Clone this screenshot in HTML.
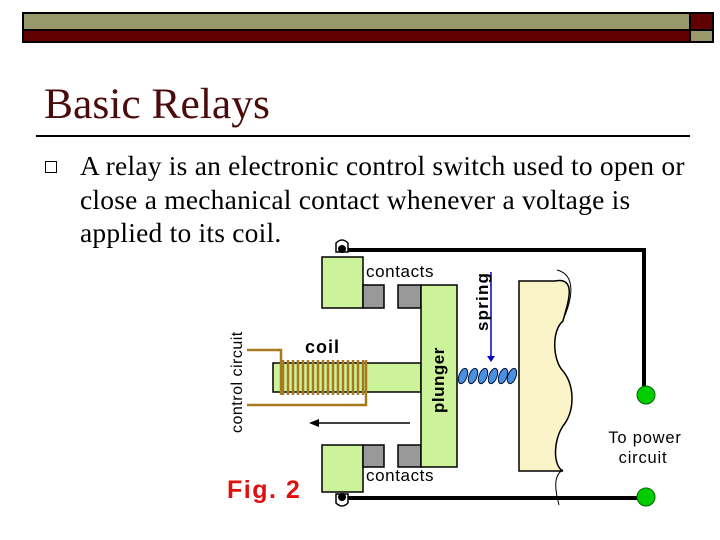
<!DOCTYPE html><html><head><style>
body{margin:0;width:720px;height:540px;background:#fff;position:relative;overflow:hidden;font-family:"Liberation Serif",serif}
.a{position:absolute}
</style></head><body>
<div class="a" style="left:22px;top:12px;width:666px;height:16px;background:#99986a;border:2px solid #000"></div>
<div class="a" style="left:22px;top:29px;width:666px;height:10px;background:#600000;border:2px solid #000"></div>
<div class="a" style="left:689px;top:12px;width:21px;height:16px;background:#600000;border:2px solid #000"></div>
<div class="a" style="left:689px;top:29px;width:21px;height:10px;background:#99986a;border:2px solid #000"></div>
<div class="a" style="left:44px;top:79px;font-size:43.5px;color:#4a0b0b">Basic Relays</div>
<div class="a" style="left:36px;top:135px;width:654px;height:2px;background:#000"></div>
<div class="a" style="left:45px;top:161px;width:10px;height:10px;border:1.5px solid #000"></div>
<div class="a" style="left:80px;top:149px;font-size:27.5px;line-height:33.5px;color:#000;width:640px;white-space:nowrap;letter-spacing:0.22px">A relay is an electronic control switch used to open or<br>close a mechanical contact whenever a voltage is<br>applied to its coil.</div>
<svg class="a" style="left:0;top:0" width="720" height="540">
<g font-family="Liberation Sans,sans-serif">
<path d="M342 250H644V395M342 498H640" stroke="#000" stroke-width="4" fill="none"/>
<circle cx="646" cy="395" r="9" fill="#0c0" stroke="#060"/>
<circle cx="646" cy="497" r="9" fill="#0c0" stroke="#060"/>
<path d="M336 252V243q6-6 12 0V252z" fill="#fff" stroke="#000" stroke-width="1.5"/>
<circle cx="342" cy="249" r="4" fill="#000"/>
<path d="M336 494V503q6 6 12 0V494z" fill="#fff" stroke="#000" stroke-width="1.5"/>
<circle cx="342" cy="497" r="4" fill="#000"/>
<g stroke="#000" stroke-width="1.5">
<rect x="322" y="257" width="41" height="51" fill="#ccf29a"/>
<rect x="322" y="445" width="41" height="47" fill="#ccf29a"/>
<rect x="363" y="285" width="21" height="23" fill="#999"/>
<rect x="398" y="285" width="23" height="23" fill="#999"/>
<rect x="363" y="445" width="21" height="22" fill="#999"/>
<rect x="398" y="445" width="23" height="22" fill="#999"/>
<rect x="273" y="363" width="148" height="29" fill="#ccf29a"/>
<rect x="421" y="285" width="36" height="182" fill="#ccf29a"/>
<path d="M519 281H555c25-5 10 30 8 40c-12 10-10 40 0 50c12 15 12 40 0 55c-10 15-10 40 0 45H519z" fill="#fbf4c8"/>
</g>
<path d="M557 270c20 5 15 30 6 50M563 470c-10 5-8 20-4 35" stroke="#000" fill="none"/>
<g stroke="#a87a20" stroke-width="2.5">
<path d="M247 350H281V395M247 405H366V360" fill="none"/>
<path d="M283 360V395M288 360V395M293 360V395M298 360V395M303 360V395M308 360V395M313 360V395M318 360V395M323 360V395M328 360V395M333 360V395M338 360V395M343 360V395M348 360V395M353 360V395M358 360V395M363 360V395"/>
</g>
<path d="M318 423H410" stroke="#000" stroke-width="1.5"/><path d="M309 423l10-4v8z" fill="#000"/>
<path d="M491 272V358" stroke="#00c" stroke-width="1.5"/><path d="M487 356h8l-4 6z" fill="#00c"/>
<g fill="#4a90e0" stroke="#013" stroke-width="1">
<ellipse cx="463" cy="376" rx="4" ry="8" transform="rotate(20 463 376)"/><ellipse cx="473" cy="376" rx="4" ry="8" transform="rotate(20 473 376)"/><ellipse cx="483" cy="376" rx="4" ry="8" transform="rotate(20 483 376)"/><ellipse cx="493" cy="376" rx="4" ry="8" transform="rotate(20 493 376)"/><ellipse cx="503" cy="376" rx="4" ry="8" transform="rotate(20 503 376)"/><ellipse cx="512" cy="376" rx="4" ry="8" transform="rotate(20 512 376)"/>
</g>
<text x="366" y="277" font-size="17" letter-spacing="0.6">contacts</text>
<text x="366" y="481" font-size="17" letter-spacing="0.6">contacts</text>
<text x="305" y="353" font-size="18" font-weight="bold" letter-spacing="1">coil</text>
<text transform="translate(444 413) rotate(-90)" font-size="17" font-weight="bold" letter-spacing="0.5">plunger</text>
<text transform="translate(488 331) rotate(-90)" font-size="17" font-weight="bold" letter-spacing="1.2">spring</text>
<text transform="translate(242 433) rotate(-90)" font-size="16" letter-spacing="0.5">control circuit</text>
<text x="645" y="443" font-size="16.5" text-anchor="middle" letter-spacing="0.8">To power</text>
<text x="643" y="463" font-size="16.5" text-anchor="middle" letter-spacing="0.8">circuit</text>
<text x="227" y="498" font-size="25" font-weight="bold" fill="#e01010" letter-spacing="1.5">Fig. 2</text>
</g></svg>
</body></html>
